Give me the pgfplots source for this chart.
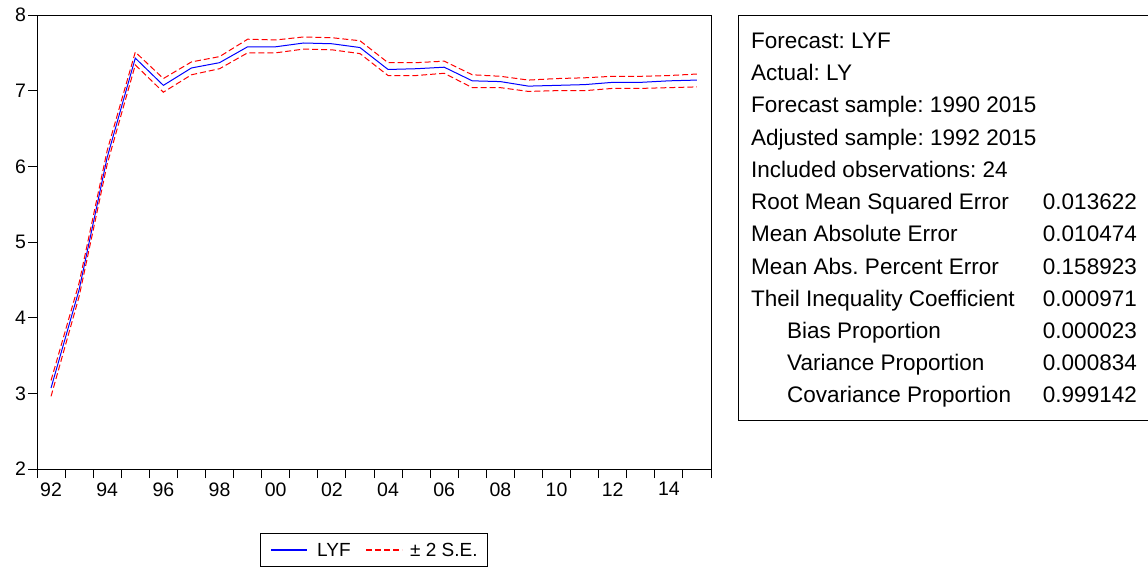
\documentclass[border=0pt]{standalone}
\usepackage{fontspec}
\setmainfont{Liberation Sans}
\usepackage{pgfplots}
\pgfplotsset{compat=1.18}
\usepackage{pgfplotstable}
\frenchspacing

\pgfplotstableread{
year lyf up lo
1992 3.07 3.17 2.96
1993 4.37 4.46 4.28
1994 6.12 6.21 6.03
1995 7.43 7.51 7.34
1996 7.07 7.16 6.98
1997 7.30 7.38 7.21
1998 7.37 7.45 7.29
1999 7.58 7.68 7.50
2000 7.58 7.67 7.50
2001 7.63 7.71 7.55
2002 7.62 7.70 7.54
2003 7.57 7.66 7.49
2004 7.28 7.37 7.20
2005 7.29 7.37 7.20
2006 7.31 7.39 7.23
2007 7.13 7.21 7.04
2008 7.12 7.19 7.04
2009 7.06 7.14 6.99
2010 7.07 7.16 7.00
2011 7.08 7.17 7.00
2012 7.11 7.19 7.03
2013 7.11 7.19 7.03
2014 7.13 7.20 7.04
2015 7.14 7.22 7.05
}\data

\begin{document}
\frenchspacing
\begin{tikzpicture}[x=1pt,y=1pt]
\useasboundingbox (0pt,0pt) rectangle (1148pt,570pt);
\begin{axis}[
  at={(37pt,101pt)}, anchor=south west,
  scale only axis, width=674pt, height=454pt,
  xmin=1991.5, xmax=2015.5, ymin=2, ymax=8,
  axis line style={black, line width=0.9pt},
  tick align=outside,
  xtick pos=bottom, ytick pos=left,
  major tick length=9pt, minor tick length=9pt,
  tick style={black, line width=0.9pt},
  ytick={2,3,4,5,6,7,8},
  xtick={1992,1994,1996,1998,2000,2002,2004,2006,2008,2010,2012,2014},
  xticklabels={92,94,96,98,00,02,04,06,08,10,12,14},
  major x tick style={draw=none},
  minor xtick={1991.5,1992.5,...,2015.5},
  /pgf/number format/assume math mode=true,
  tick label style={font=\fontsize{19.5}{22}\selectfont},
  yticklabel style={xshift=1.5pt},
  xticklabel style={yshift=-1pt},
]
\addplot[color=blue, draw=blue, line width=1pt] table[x=year, y=lyf] {\data};
\addplot[color=red, draw=red, line width=1pt, dash pattern=on 6pt off 3pt] table[x=year, y=up] {\data};
\addplot[color=red, draw=red, line width=1pt, dash pattern=on 6pt off 3pt] table[x=year, y=lo] {\data};
\end{axis}
% legend
\draw[black, line width=0.6pt] (260pt,4pt) rectangle (487pt,37pt);
\draw[blue, line width=1.2pt] (271pt,20pt) -- (307pt,20pt);
\node[anchor=base west, inner sep=0pt, font=\fontsize{19}{22}\selectfont] at (317pt,13.5pt) {LYF};
\draw[red, line width=1.2pt, dash pattern=on 6pt off 3pt] (366pt,20pt) -- (402pt,20pt);
\node[anchor=base west, inner sep=0pt, font=\fontsize{19}{22}\selectfont] at (410pt,13.5pt) {± 2 S.E.};
% statistics box
\draw[black, line width=0.9pt] (1148pt,555pt) -- (738pt,555pt) -- (738pt,150pt) -- (1148pt,150pt);
\begin{scope}[every node/.style={inner sep=0pt, font=\fontsize{22.5}{26}\selectfont}]
\node[anchor=base west] at (751pt,521pt) {Forecast: LYF};
\node[anchor=base west] at (751pt,489pt) {Actual: LY};
\node[anchor=base west] at (751pt,457pt) {Forecast sample: 1990 2015};
\node[anchor=base west] at (751pt,424pt) {Adjusted sample: 1992 2015};
\node[anchor=base west] at (751pt,392pt) {Included observations: 24};
\node[anchor=base west] at (751pt,360pt) {Root Mean Squared Error};
\node[anchor=base east] at (1137pt,360pt) {0.013622};
\node[anchor=base west] at (751pt,328pt) {Mean Absolute Error};
\node[anchor=base east] at (1137pt,328pt) {0.010474};
\node[anchor=base west] at (751pt,295pt) {Mean Abs. Percent Error};
\node[anchor=base east] at (1137pt,295pt) {0.158923};
\node[anchor=base west] at (751pt,263pt) {Theil Inequality Coefficient};
\node[anchor=base east] at (1137pt,263pt) {0.000971};
\node[anchor=base west] at (787pt,231pt) {Bias Proportion};
\node[anchor=base east] at (1137pt,231pt) {0.000023};
\node[anchor=base west] at (787pt,199pt) {Variance Proportion};
\node[anchor=base east] at (1137pt,199pt) {0.000834};
\node[anchor=base west] at (787pt,167pt) {Covariance Proportion};
\node[anchor=base east] at (1137pt,167pt) {0.999142};
\end{scope}
\end{tikzpicture}
\end{document}
